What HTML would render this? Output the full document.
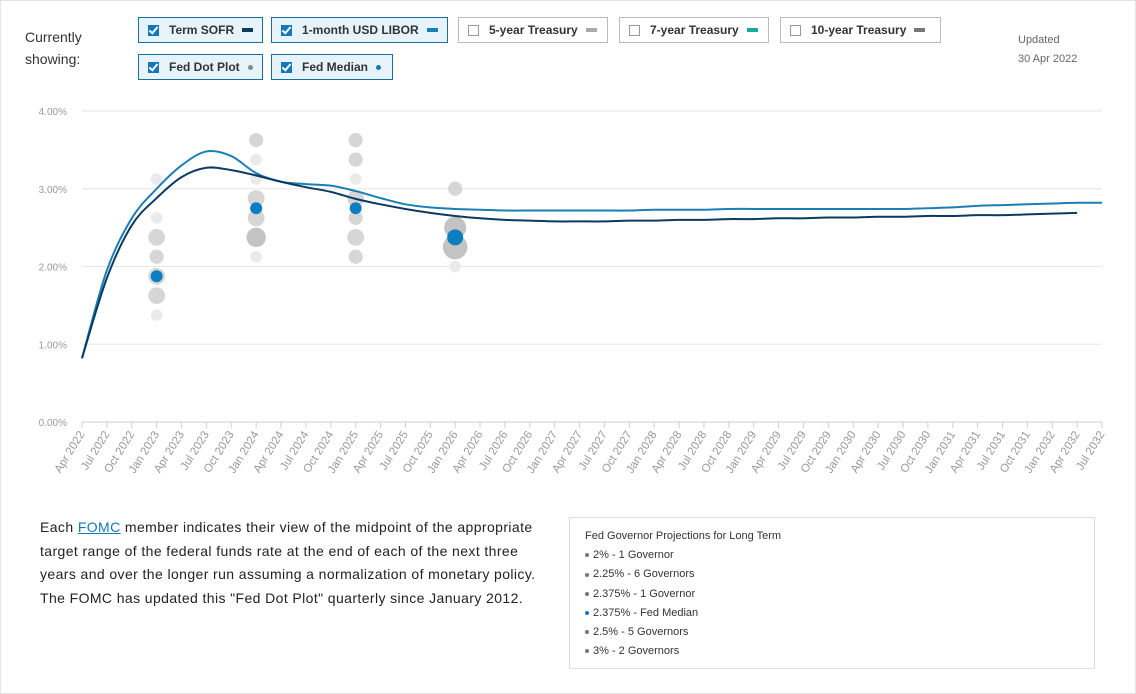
<!DOCTYPE html>
<html><head><meta charset="utf-8">
<style>
body{margin:0;width:1136px;height:694px;background:#fff;font-family:"Liberation Sans",sans-serif;overflow:hidden;position:relative}
.frame{position:absolute;left:0;top:0;width:1134px;height:692px;border:1px solid #e4e4e4}
.lbl{position:absolute;left:25px;top:26px;font-size:14px;color:#333;line-height:22px}
.btn{position:absolute;height:26px;border:1px solid #1a6e9c;background:#e6f3fa;font-size:12px;font-weight:bold;color:#333;box-sizing:border-box;display:flex;align-items:center;padding-left:9px}
.btn.off{border-color:#bbb;background:#fff}
.cb{width:11px;height:11px;background:#1577b8;margin-right:10px;position:relative}
.off .cb{background:#fff;border:1px solid #999;box-sizing:border-box}
.cb:after{content:"";position:absolute;left:3px;top:0;width:3px;height:7px;border:solid #fff;border-width:0 2px 2px 0;transform:rotate(40deg)}
.off .cb:after{display:none}
.sw{width:11px;height:4px;margin-left:8px}
.dt{width:5px;height:5px;border-radius:50%;margin-left:8px}
.upd{position:absolute;left:1018px;top:31px;font-size:11px;color:#666;line-height:19px}
.txt{position:absolute;left:40px;top:516px;font-size:14px;letter-spacing:0.4px;white-space:nowrap;line-height:23.5px;color:#222}
.txt a{color:#1577b8;text-decoration:underline}
.box{position:absolute;left:569px;top:517px;width:526px;height:152px;border:1px solid #ddd;box-sizing:border-box;padding:9px 15px;font-size:11px;color:#333;line-height:19.2px}
.box span{display:inline-block;width:4px;height:4px;border-radius:50%;background:#777;margin-right:4px;vertical-align:middle}
</style></head><body>
<div class="frame"></div>
<div class="lbl">Currently<br>showing:</div>
<div class="btn" style="left:138px;top:17px;width:125px"><div class="cb"></div>Term SOFR<div class="sw" style="background:#0c3a62"></div></div>
<div class="btn" style="left:271px;top:17px;width:177px"><div class="cb"></div>1-month USD LIBOR<div class="sw" style="background:#1a7fb5"></div></div>
<div class="btn off" style="left:458px;top:17px;width:150px"><div class="cb"></div>5-year Treasury<div class="sw" style="background:#aaa"></div></div>
<div class="btn off" style="left:619px;top:17px;width:150px"><div class="cb"></div>7-year Treasury<div class="sw" style="background:#1aa99a"></div></div>
<div class="btn off" style="left:780px;top:17px;width:161px"><div class="cb"></div>10-year Treasury<div class="sw" style="background:#777"></div></div>
<div class="btn" style="left:138px;top:54px;width:125px"><div class="cb"></div>Fed Dot Plot<div class="dt" style="background:#888"></div></div>
<div class="btn" style="left:271px;top:54px;width:122px"><div class="cb"></div>Fed Median<div class="dt" style="background:#1577b8"></div></div>
<div class="upd">Updated<br>30 Apr 2022</div>
<svg id="chart" width="1136" height="500" style="position:absolute;left:0;top:0"></svg>
<div class="txt">Each <a>FOMC</a> member indicates their view of the midpoint of the appropriate<br>target range of the federal funds rate at the end of each of the next three<br>years and over the longer run assuming a normalization of monetary policy.<br>The FOMC has updated this "Fed Dot Plot" quarterly since January 2012.</div>
<div class="box">Fed Governor Projections for Long Term<br>
<span></span>2% - 1 Governor<br><span></span>2.25% - 6 Governors<br><span></span>2.375% - 1 Governor<br><span style="background:#1577b8"></span>2.375% - Fed Median<br><span></span>2.5% - 5 Governors<br><span></span>3% - 2 Governors</div>
<script>
const quarterLabels=[];
const months=["Apr","Jul","Oct","Jan"];
for(let i=0;i<=41;i++){const m=months[i%4];const y=2022+Math.floor((i+1)/4);quarterLabels.push(m+" "+y);}
const yTicks=[0,1,2,3,4];
const sofr=[0.82,1.85,2.53,2.88,3.15,3.27,3.24,3.17,3.09,3.02,2.96,2.87,2.8,2.74,2.69,2.65,2.62,2.6,2.59,2.58,2.58,2.58,2.59,2.59,2.6,2.6,2.61,2.61,2.62,2.62,2.63,2.63,2.64,2.64,2.65,2.65,2.66,2.66,2.67,2.68,2.69];
const libor=[0.82,1.95,2.62,3.0,3.3,3.48,3.42,3.2,3.09,3.06,3.04,2.97,2.88,2.8,2.76,2.74,2.73,2.72,2.72,2.72,2.72,2.72,2.72,2.73,2.73,2.73,2.74,2.74,2.74,2.74,2.74,2.74,2.74,2.74,2.75,2.76,2.78,2.79,2.8,2.81,2.82,2.82];
const dotQuarter=[3,7,11,15];
const dotValues=[[3.125,2.625,2.375,2.125,1.875,1.625,1.375],[3.625,3.375,3.125,2.875,2.625,2.375,2.125],[3.625,3.375,3.125,2.875,2.625,2.375,2.125],[3.0,2.5,2.25,2.0]];
const dotCounts=[[1,1,3,2,3,3,1],[2,1,1,3,3,4,1],[2,2,1,3,2,3,2],[2,5,6,1]];
const medians=[1.875,2.75,2.75,2.375];
const ns="http://www.w3.org/2000/svg";
const svg=document.getElementById("chart");
const X=i=>82+i*1020/41, Y=v=>422-v*77.75;
function el(t,a,p){const e=document.createElementNS(ns,t);for(const k in a)e.setAttribute(k,a[k]);(p||svg).appendChild(e);return e;}
yTicks.forEach(v=>{const g=el("line",{x1:82,x2:1102,y1:Y(v),y2:Y(v),stroke:v?"#e6e6e6":"#c8d0d6"});


const t=el("text",{x:67,y:Y(v)+4,"text-anchor":"end","font-size":"10","fill":"#999"});t.textContent=v.toFixed(2)+"%";

});
quarterLabels.forEach((l,i)=>{const x=X(i);el("line",{x1:x,x2:x,y1:422,y2:428,stroke:"#c8d0d6"});
const t=el("text",{x:x+3,y:434,"text-anchor":"end","font-size":"11.5","fill":"#999",transform:`rotate(-58 ${x+3} 434)`});t.textContent=l;

});
dotValues.forEach((vals,c)=>vals.forEach((v,j)=>{const n=dotCounts[c][j];
const d=el("circle",{cx:X(dotQuarter[c]),cy:Y(v),r:4.5+n*1.3,fill:n>=4?"#b8b8b8":n>=2?"#cfcfcf":"#e6e6e6","fill-opacity":0.85});

}));
function path(arr){const p=arr.map((v,i)=>[X(i),Y(v)]);let d=`M${p[0][0]},${p[0][1]}`;
for(let i=0;i<p.length-1;i++){const p0=p[i-1]||p[i],p1=p[i],p2=p[i+1],p3=p[i+2]||p2;
d+=` C${p1[0]+(p2[0]-p0[0])/6},${p1[1]+(p2[1]-p0[1])/6} ${p2[0]-(p3[0]-p1[0])/6},${p2[1]-(p3[1]-p1[1])/6} ${p2[0]},${p2[1]}`;}return d;}
const l1=el("path",{d:path(libor),fill:"none",stroke:"#1a7fb5","stroke-width":2});


const l2=el("path",{d:path(sofr),fill:"none",stroke:"#0c3a62","stroke-width":2});


medians.forEach((v,c)=>{const m=el("circle",{cx:X(dotQuarter[c]),cy:Y(v),r:c==3?8:6,fill:"#0b7dc1"});

});
</script>
</body></html>
